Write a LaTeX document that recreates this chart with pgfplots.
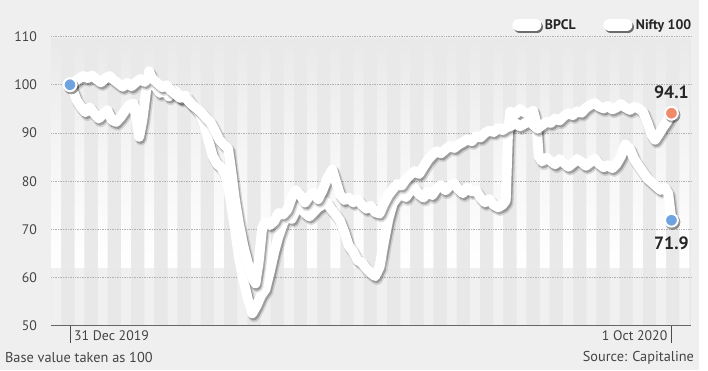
\documentclass[border=0pt]{standalone}
\usepackage{pgfplots}
\pgfplotsset{compat=1.18}
\usepackage{pgfplotstable}
\usepackage{fontspec}
\setmainfont{PT Sans}
\definecolor{bgc}{HTML}{EFEFEF}
\definecolor{upbg}{HTML}{E9E9E9}
\definecolor{lowbg}{HTML}{E8E8E8}
\definecolor{lowstripe}{HTML}{F0F0F0}
\definecolor{dotblue}{HTML}{6FA3E0}
\definecolor{dotorange}{HTML}{EF8A6B}
\definecolor{txt}{HTML}{444444}

\pgfplotstableread{
d v
0 100
1.5 98.6
3 96.8
5 95.4
7 94.3
9 95.3
11 94.1
13 93.0
15 93.9
17 94.7
19 92.7
21 92.3
23 93.3
25 94.6
27 95.8
29 96.1
30.5 92.0
31.5 89.2
33 92.8
34.5 98.2
36 102.8
37.5 101.2
39 99.6
41 98.3
43 98.9
45 97.6
47 98.9
49 98.3
51 97.1
53 97.7
55 96.3
57 95.2
59 94.0
61 91.8
63 88.5
65 85.2
67 83.6
69 82.8
71 81.0
73 76.5
75 70.5
77 64.0
79 59.5
81 55.5
83 52.6
85 54.2
87 56.3
89 57.6
91 61.2
93 65.3
95 68.6
97 71.2
99 73.1
101 72.2
103 74.1
105 74.6
107 73.4
109 72.7
111 73.6
113 74.6
115 75.1
117 75.6
119 74.2
121 73.1
123 71.8
125 69.4
127 66.6
129 65.4
131 63.6
133 63.1
135 61.9
137 61.0
139 60.3
141 62.2
143 67.4
145 72.1
147 75.4
149 76.6
151 77.4
153 76.7
155 78.0
157 78.6
159 77.3
161 76.6
163 77.9
165 77.1
167 78.5
169 79.2
171 78.1
173 79.0
175 79.6
177 78.3
179 77.5
181 78.7
183 77.9
185 78.1
187 76.6
189 75.6
191 76.3
193 75.1
195 74.6
197 75.1
198.5 76.0
199.5 89.5
200.5 94.4
203 93.9
205 95.0
207 94.3
209 93.8
211 94.6
212.5 92.0
213.5 85.2
215 84.1
217 84.9
219 84.2
221 83.5
223 84.6
225 83.8
227 83.0
229 83.7
231 84.6
233 84.0
235 83.2
237 83.9
239 84.7
241 83.6
243 82.9
245 83.3
247 82.7
249 83.6
251 85.2
253 87.6
255 86.8
257 84.6
259 83.2
261 81.9
263 80.6
265 79.8
267 79.0
269 78.2
271 78.6
272.5 77.5
273.3 74.5
274 71.9
}\bpcl

\pgfplotstableread{
d v
0 100
2 100.6
4 101.3
6 101.8
8 101.4
10 101.9
12 101.2
14 100.5
16 101.3
18 101.8
20 101.0
22 100.3
24 99.6
26 100.4
28 99.7
30 100.5
32 101.2
34 100.6
36 101.7
38 101.1
40 100.3
42 99.5
44 99.9
46 98.8
48 98.1
50 97.3
52 97.8
54 96.6
56 95.7
58 95.0
60 94.2
62 93.1
64 92.2
66 90.5
68 88.6
70 87.6
72 86.8
73.5 82.0
75 76.5
77 71.0
79 66.5
81 63.0
83 60.0
84.5 58.8
86 63.5
87.5 70.2
89 71.6
91 70.9
93 71.7
95 73.4
97 73.1
99 74.1
101 76.6
103 78.1
105 77.1
107 75.6
109 76.9
111 77.6
113 76.3
115 78.1
117 80.4
119.5 82.4
121 80.1
123 77.2
125 76.1
127 76.6
129 75.6
131 76.3
133 75.1
135 74.3
137 74.9
139 73.6
141 73.3
143 75.4
145 77.1
147 78.3
149 79.4
151 79.1
153 80.4
155 81.3
157 82.1
159 81.5
161 83.0
163 84.4
165 85.4
167 86.2
169 85.8
171 86.6
173 87.3
175 86.9
177 87.6
179 88.1
181 88.7
183 88.3
185 89.3
187 89.1
189 90.0
191 90.5
193 90.2
195 91.0
197 90.6
199 91.2
201 91.5
203 92.0
205 91.4
207 91.9
209 92.5
211 91.7
213 90.9
215 91.6
217 92.3
219 92.1
221 93.0
223 92.6
225 93.5
227 94.1
229 93.7
231 94.5
233 94.2
235 95.2
237 95.8
239 96.2
241 95.5
243 95.1
245 95.6
247 94.9
249 95.3
251 96.0
253 95.3
255 94.8
257 95.4
259 95.1
261 94.4
263 92.2
265 89.6
266.5 88.6
268 89.6
270 91.1
272 92.4
274 94.1
}\nifty

\begin{document}
\begin{tikzpicture}
\fill[bgc] (0,0) rectangle (708pt,375pt);
\begin{axis}[
  at={(52pt,45pt)}, anchor=south west,
  scale only axis, width=648pt, height=293pt,
  xmin=-8.5, xmax=283, ymin=50, ymax=110,
  clip=false,
  axis line style={draw=none},
  ytick={50,60,...,110},
  ytick style={draw=none},
  /pgf/number format/assume math mode=true,
  yticklabel style={font=\fontsize{14}{14}\selectfont, text=txt, xshift=6pt},
  xtick={0,274}, xticklabels={}, xtick pos=left,
  tick align=outside, major tick length=17pt,
  xtick style={draw=black!70, line width=0.9pt},
  unbounded coords=jump,
  legend columns=2,
  legend cell align=left,
  legend style={draw=none, fill=none, at={(1.008,1.073)}, anchor=north east,
    font=\bfseries\fontsize{14}{14}\selectfont, text=black!85,
    /tikz/every even column/.append style={column sep=26pt}},
  legend image code/.code={
    \draw[black, opacity=0.55, line width=12pt, line cap=round] (7.5pt,-2pt) -- (25pt,-2pt);
    \draw[white, line width=12pt, line cap=round] (6pt,0pt) -- (23.5pt,0pt);
  },
]
% background bands
\addplot[draw=none, fill=upbg, forget plot] coordinates {(-8.5,62) (283,62) (283,109.6) (-8.5,109.6)} -- cycle;
\addplot[draw=none, fill=lowbg, forget plot] coordinates {(-8.5,50) (283,50) (283,62) (-8.5,62)} -- cycle;
% upper stripes, fading towards the top
\addplot[draw=none, top color=upbg, bottom color=white, middle color=white!55!upbg, forget plot] coordinates {
(-8.5,62) (-8.5,109.6) (-4.05,109.6) (-4.05,62)
(2.05,62) (2.05,109.6) (6.55,109.6) (6.55,62)
(12.65,62) (12.65,109.6) (17.15,109.6) (17.15,62)
(23.25,62) (23.25,109.6) (27.75,109.6) (27.75,62)
(33.85,62) (33.85,109.6) (38.35,109.6) (38.35,62)
(44.45,62) (44.45,109.6) (48.95,109.6) (48.95,62)
(55.05,62) (55.05,109.6) (59.55,109.6) (59.55,62)
(65.65,62) (65.65,109.6) (70.15,109.6) (70.15,62)
(76.25,62) (76.25,109.6) (80.75,109.6) (80.75,62)
(86.85,62) (86.85,109.6) (91.35,109.6) (91.35,62)
(97.45,62) (97.45,109.6) (101.95,109.6) (101.95,62)
(108.05,62) (108.05,109.6) (112.55,109.6) (112.55,62)
(118.65,62) (118.65,109.6) (123.15,109.6) (123.15,62)
(129.25,62) (129.25,109.6) (133.75,109.6) (133.75,62)
(139.85,62) (139.85,109.6) (144.35,109.6) (144.35,62)
(150.45,62) (150.45,109.6) (154.95,109.6) (154.95,62)
(161.05,62) (161.05,109.6) (165.55,109.6) (165.55,62)
(171.65,62) (171.65,109.6) (176.15,109.6) (176.15,62)
(182.25,62) (182.25,109.6) (186.75,109.6) (186.75,62)
(192.85,62) (192.85,109.6) (197.35,109.6) (197.35,62)
(203.45,62) (203.45,109.6) (207.95,109.6) (207.95,62)
(214.05,62) (214.05,109.6) (218.55,109.6) (218.55,62)
(224.65,62) (224.65,109.6) (229.15,109.6) (229.15,62)
(235.25,62) (235.25,109.6) (239.75,109.6) (239.75,62)
(245.85,62) (245.85,109.6) (250.35,109.6) (250.35,62)
(256.45,62) (256.45,109.6) (260.95,109.6) (260.95,62)
(267.05,62) (267.05,109.6) (271.55,109.6) (271.55,62)
(277.65,62) (277.65,109.6) (282.15,109.6) (282.15,62)} -- cycle;
% lower stripes
\addplot[draw=none, fill=lowstripe, forget plot] coordinates {
(-8.5,50) (-8.5,62) (-4.05,62) (-4.05,50)
(2.05,50) (2.05,62) (6.55,62) (6.55,50)
(12.65,50) (12.65,62) (17.15,62) (17.15,50)
(23.25,50) (23.25,62) (27.75,62) (27.75,50)
(33.85,50) (33.85,62) (38.35,62) (38.35,50)
(44.45,50) (44.45,62) (48.95,62) (48.95,50)
(55.05,50) (55.05,62) (59.55,62) (59.55,50)
(65.65,50) (65.65,62) (70.15,62) (70.15,50)
(76.25,50) (76.25,62) (80.75,62) (80.75,50)
(86.85,50) (86.85,62) (91.35,62) (91.35,50)
(97.45,50) (97.45,62) (101.95,62) (101.95,50)
(108.05,50) (108.05,62) (112.55,62) (112.55,50)
(118.65,50) (118.65,62) (123.15,62) (123.15,50)
(129.25,50) (129.25,62) (133.75,62) (133.75,50)
(139.85,50) (139.85,62) (144.35,62) (144.35,50)
(150.45,50) (150.45,62) (154.95,62) (154.95,50)
(161.05,50) (161.05,62) (165.55,62) (165.55,50)
(171.65,50) (171.65,62) (176.15,62) (176.15,50)
(182.25,50) (182.25,62) (186.75,62) (186.75,50)
(192.85,50) (192.85,62) (197.35,62) (197.35,50)
(203.45,50) (203.45,62) (207.95,62) (207.95,50)
(214.05,50) (214.05,62) (218.55,62) (218.55,50)
(224.65,50) (224.65,62) (229.15,62) (229.15,50)
(235.25,50) (235.25,62) (239.75,62) (239.75,50)
(245.85,50) (245.85,62) (250.35,62) (250.35,50)
(256.45,50) (256.45,62) (260.95,62) (260.95,50)
(267.05,50) (267.05,62) (271.55,62) (271.55,50)
(277.65,50) (277.65,62) (282.15,62) (282.15,50)} -- cycle;
% grid lines and base line
\addplot[densely dotted, black!30, line width=0.7pt, forget plot] coordinates {
(-8.5,60) (283,60) (283,nan) (-8.5,70) (283,70) (283,nan) (-8.5,80) (283,80) (283,nan)
(-8.5,90) (283,90) (283,nan) (-8.5,100) (283,100) (283,nan) (-8.5,110) (283,110)};
\addplot[black!60, line width=1.1pt, forget plot] coordinates {(-8.5,50) (283,50)};

% series with drop shadows
\addplot[black, opacity=0.12, line width=12pt, line join=round, line cap=round, forget plot] table[x expr=\thisrow{d}+0.9, y expr=\thisrow{v}-0.6] {\bpcl};
\addplot[black, opacity=0.25, line width=10pt, line join=round, line cap=round, forget plot] table[x expr=\thisrow{d}+0.7, y expr=\thisrow{v}-0.45] {\bpcl};
\addplot[white, line width=10pt, line join=round, line cap=round] table[x=d,y=v] {\bpcl};
\addlegendentry{BPCL}
\addplot[black, opacity=0.12, line width=12pt, line join=round, line cap=round, forget plot] table[x expr=\thisrow{d}+0.9, y expr=\thisrow{v}-0.6] {\nifty};
\addplot[black, opacity=0.25, line width=10pt, line join=round, line cap=round, forget plot] table[x expr=\thisrow{d}+0.7, y expr=\thisrow{v}-0.45] {\nifty};
\addplot[white, line width=10pt, line join=round, line cap=round] table[x=d,y=v] {\nifty};
\addlegendentry{Nifty 100}

\addplot[only marks, mark=*, mark size=7.5pt, black, opacity=0.3, forget plot] coordinates {(0.6,99.6) (274.6,71.5) (274.6,93.7)};
\addplot[only marks, mark=*, mark size=6.5pt, mark options={fill=dotblue, draw=white, line width=2pt}, forget plot] coordinates {(0,100) (274,71.9)};
\addplot[only marks, mark=*, mark size=6.5pt, mark options={fill=dotorange, draw=white, line width=2pt}, forget plot] coordinates {(274,94.1)};

\node[font=\bfseries\fontsize{18}{18}\selectfont, text=black!85] at (axis cs:274,94.1) [yshift=21pt] {94.1};
\node[font=\bfseries\fontsize{18}{18}\selectfont, text=black!85] at (axis cs:274,71.9) [yshift=-23pt] {71.9};

\node[anchor=west, inner sep=0pt, font=\fontsize{14}{14}\selectfont, text=txt] at (axis cs:0,50) [xshift=4pt, yshift=-10pt] {31 Dec 2019};
\node[anchor=east, inner sep=0pt, font=\fontsize{14}{14}\selectfont, text=txt] at (axis cs:274,50) [xshift=-4pt, yshift=-10pt] {1 Oct 2020};
\end{axis}
\node[anchor=west, inner sep=0pt, font=\fontsize{14.5}{14.5}\selectfont, text=txt] at (5pt,13pt) {Base value taken as 100};
\node[anchor=east, inner sep=0pt, font=\fontsize{14.5}{14.5}\selectfont, text=txt] at (703pt,13pt) {Source: Capitaline};
\end{tikzpicture}
\end{document}
